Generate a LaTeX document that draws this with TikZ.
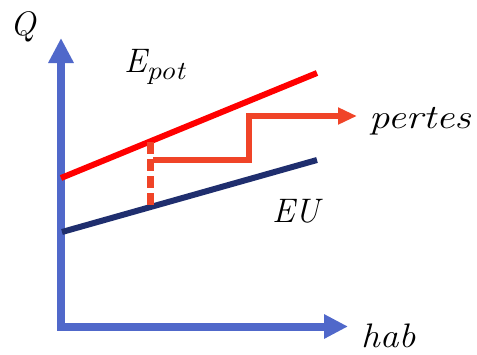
\documentclass[tikz,border=0pt]{standalone}
\usetikzlibrary{arrows.meta}
\definecolor{axisblue}{RGB}{80,104,202}
\definecolor{potred}{RGB}{255,0,0}
\definecolor{eunavy}{RGB}{31,46,110}
\definecolor{lossorange}{RGB}{240,68,40}
\newcommand{\subtxt}[1]{\raisebox{-0.22em}{\fontsize{26}{30}\selectfont\itshape\scalebox{1.15}[1]{#1}}}
\newcommand{\widetxt}[2]{\scalebox{#1}[1]{#2}}
\tikzset{
  axisline/.style={draw=axisblue, line width=8pt, line join=miter,
    {Triangle[length=25pt,width=24pt]}-{Triangle[length=24pt,width=23pt]}},
  potline/.style={draw=potred, line width=6pt},
  euline/.style={draw=eunavy, line width=6pt},
  lossdash/.style={draw=lossorange, line width=6.5pt, dash pattern=on 12pt off 5pt},
  lossarrow/.style={draw=lossorange, line width=6pt, line join=miter,
    -{Triangle[length=19pt,width=16pt]}},
  lbl/.style={inner sep=0pt, anchor=base west, font=\fontsize{34}{40}\selectfont\itshape}
}
\begin{document}
\begin{tikzpicture}[x=1pt,y=-1pt]
\useasboundingbox (0,0) rectangle (477,354);
% axes
\coordinate (ytip) at (61,38);
\coordinate (origin) at (61,326.5);
\coordinate (xtip) at (348,326.5);
\draw[axisline] (ytip) -- (origin) -- (xtip);
% lines
\coordinate (p0) at (61,178);
\coordinate (p1) at (317,73);
\coordinate (e0) at (62,232);
\coordinate (e1) at (317,160);
\draw[potline] (p0) -- (p1);
\draw[euline] (e0) -- (e1);
% dashed gap
\coordinate (d0) at (150.5,142);
\coordinate (d1) at (150.5,205);
\draw[lossdash] (d0) -- (d1);
% step arrow
\coordinate (s0) at (153,160);
\coordinate (s1) at (249,160);
\coordinate (s2) at (249,116);
\coordinate (s3) at (357,116);
\draw[lossarrow] (s0) -- (s1) -- (s2) -- (s3);
% labels
\node[lbl] (Q) at (10,35) {Q};
\node[lbl] (Epot) at (124,72) {E\subtxt{pot}};
\node[lbl] (pertes) at (369,128) {\widetxt{1.2}{pertes}};
\node[lbl] (EU) at (272,222) {EU};
\node[lbl] (hab) at (361,347) {\widetxt{1.1}{hab}};
\end{tikzpicture}
\end{document}
